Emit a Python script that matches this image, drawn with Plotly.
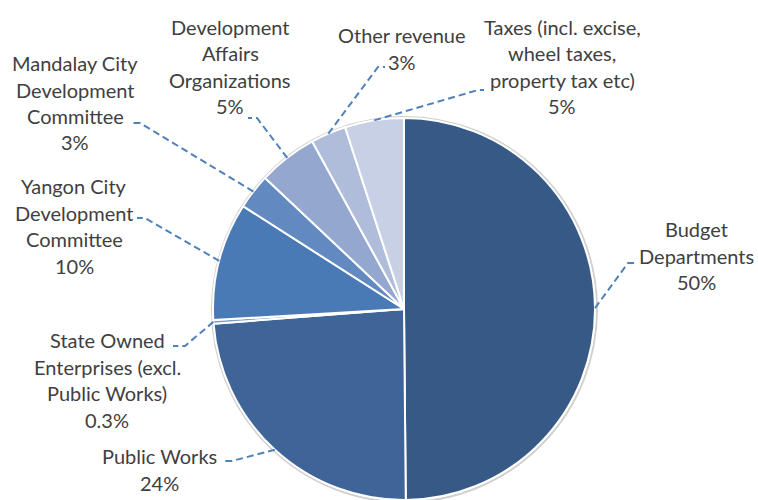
import math
import plotly.graph_objects as go

# ---------------- data ----------------
categories = [
    "Budget Departments",
    "Public Works",
    "State Owned Enterprises (excl. Public Works)",
    "Yangon City Development Committee",
    "Mandalay City Development Committee",
    "Development Affairs Organizations",
    "Other revenue",
    "Taxes (incl. excise, wheel taxes, property tax etc)",
]
values = [50, 24, 0.3, 10, 3, 5, 3, 5]
pct_labels = ["50%", "24%", "0.3%", "10%", "3%", "5%", "3%", "5%"]
label_lines = [
    ["Budget", "Departments"],
    ["Public Works"],
    ["State Owned", "Enterprises (excl.", "Public Works)"],
    ["Yangon City", "Development", "Committee"],
    ["Mandalay City", "Development", "Committee"],
    ["Development", "Affairs", "Organizations"],
    ["Other revenue"],
    ["Taxes (incl. excise,", "wheel taxes,", "property tax etc)"],
]
colors = ["#365986", "#3E6498", "#7F9CC9", "#4A7AB6", "#6289C0",
          "#94A7CF", "#AFBDDA", "#C8D0E5"]

# ---------------- layout geometry (screen pixels) ----------------
W, H = 758, 500
CX, CY, R = 404, 309, 191
LINE_H = 26.5
# label block centre x, first-line y
label_pos = [(696, 229), (159, 456), (107, 340), (74, 186),
             (75, 63), (230, 27), (402, 35), (562, 27)]
# leader line elbow and end points
leader_elbow = [(628, 263), (232, 461), (185, 346), (145, 218),
                (140, 123), (257, 118), (378, 67), (478, 90)]
leader_end = [(637, 263), (222, 461), (173, 346), (137, 218),
              (132, 123), (248, 118), (385, 67), (484, 90)]


def px(x):
    return x / W


def py(y):
    return 1 - y / H


fig = go.Figure()
fig.add_trace(go.Pie(
    labels=categories,
    values=values,
    sort=False,
    direction="clockwise",
    rotation=0,
    textinfo="none",
    hoverinfo="label+percent",
    marker=dict(colors=colors, line=dict(color="white", width=2)),
    domain=dict(x=[px(CX - R), px(CX + R)], y=[max(0, py(CY + R)), py(CY - R)]),
    showlegend=False,
))

total = sum(values)
shapes = []
annotations = []
cum = 0
for i, v in enumerate(values):
    mid = (cum + v / 2) / total * 2 * math.pi
    cum += v
    sx = CX + R * math.sin(mid)
    sy = CY - R * math.cos(mid)
    ex, ey = leader_elbow[i]
    fx, fy = leader_end[i]
    path = (f"M {px(sx)},{py(sy)} L {px(ex)},{py(ey)} L {px(fx)},{py(fy)}")
    shapes.append(dict(type="path", xref="paper", yref="paper", path=path,
                       line=dict(color="#4F81BD", width=2, dash="7px,4px")))
    lines = label_lines[i] + [pct_labels[i]]
    lx, ly = label_pos[i]
    for j, t in enumerate(lines):
        annotations.append(dict(
            x=px(lx), y=py(ly + j * LINE_H), xref="paper", yref="paper",
            text=t, showarrow=False, xanchor="center", yanchor="middle",
            font=dict(family="Lato, Carlito, sans-serif", size=20,
                      color="#404040"),
        ))

# soft shadow ring around the pie
shapes.insert(0, dict(type="circle", xref="paper", yref="paper", layer="below",
                      x0=px(CX - R - 1), x1=px(CX + R + 2),
                      y0=py(CY + R + 2), y1=py(CY - R - 1),
                      line=dict(color="#d0d0d0", width=2)))

fig.update_layout(
    width=W, height=H,
    margin=dict(l=0, r=0, t=0, b=0),
    paper_bgcolor="white",
    plot_bgcolor="white",
    shapes=shapes,
    annotations=annotations,
)

fig.write_html(
    "out.html",
    config={"displayModeBar": False},
    post_script="document.body.style.margin='0';"
                "document.body.style.overflow='hidden';",
)
